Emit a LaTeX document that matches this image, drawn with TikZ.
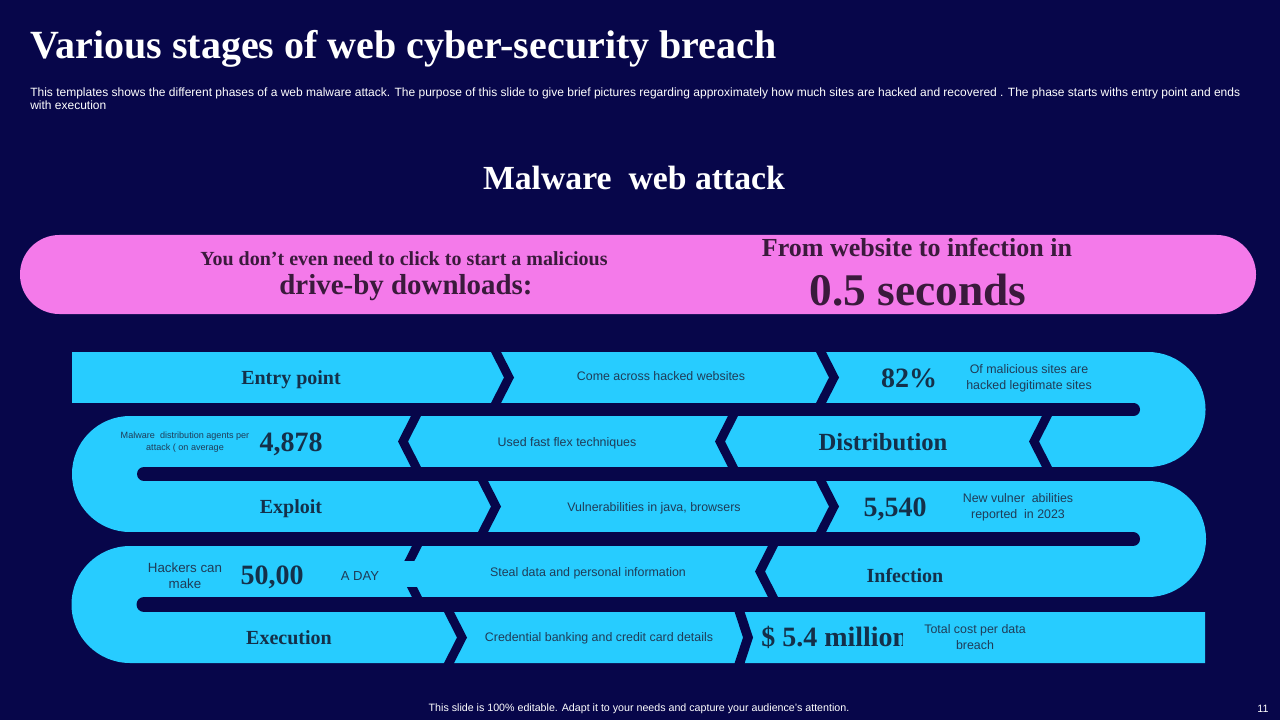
\documentclass[tikz,border=0pt]{standalone}
\usepackage{fontspec}
\setmainfont{Liberation Serif}
\setsansfont{Liberation Sans}

\definecolor{navybg}{HTML}{07064A}
\definecolor{bandcyan}{HTML}{27CCFF}
\definecolor{bannerpink}{HTML}{F47AEA}
\definecolor{plumtext}{HTML}{3A1A3C}
\definecolor{stagetext}{HTML}{14304A}
\definecolor{notecol}{HTML}{1F3C58}

% chevron cut through a band: #1 = x of stripe at top, #2 = band top, #3 = tip offset (+ right, - left)
\newcommand{\chev}[3]{\fill[navybg] (#1,#2-2) -- ++(10,0) -- ++(#3,27.5) -- ++({-(#3)},27.5) -- ++(-10,0) -- ++(#3,-27.5) -- cycle;}

\begin{document}
\begin{tikzpicture}[x=0.75pt, y=-0.75pt,
    band/.style={fill=bandcyan}, % cyan serpentine
    cutbar/.style={draw=navybg, line cap=round}, % dark bars between rows
    titletext/.style={font=\fontsize{30}{34}\selectfont\bfseries, text=white, inner sep=0pt},
    subtext/.style={font=\sffamily\fontsize{9}{11}\selectfont, text=white, inner sep=0pt},
    bannertext/.style={text=plumtext, inner sep=0pt},
    stagelabel/.style={font=\fontsize{15}{18}\selectfont\bfseries, text=stagetext, inner sep=0pt},
    statnum/.style={font=\fontsize{21}{24}\selectfont\bfseries, text=stagetext, inner sep=0pt},
    note/.style={font=\sffamily\fontsize{9.3}{12}\selectfont, text=notecol, align=center, inner sep=0pt}
]

    % Background
    \fill[navybg] (0,0) rectangle (1280,720);
    \useasboundingbox (0,0) rectangle (1280,720);

    % Headings
    \node[titletext, anchor=base west] (title) at (30,59) {Various stages of web cyber-security breach};
    \node[subtext, anchor=base west] (sub1) at (30,97) {This templates shows the different phases of a web malware attack. The purpose of this slide to give brief pictures regarding approximately how much sites are hacked and recovered . The phase starts withs entry point and ends};
    \node[subtext, anchor=base west] (sub2) at (30,110) {with execution};
    \node[font=\fontsize{25.3}{30}\selectfont\bfseries, text=white, anchor=base] (heading) at (634,190) {Malware~ web attack};

    % Pink banner
    \fill[bannerpink, rounded corners=29.5pt] (20,235) rectangle (1256,314);
    \node[bannertext, font=\fontsize{15}{18}\selectfont\bfseries, anchor=base] (click) at (404,265) {You don't even need to click to start a malicious};
    \node[bannertext, font=\fontsize{21.7}{25}\selectfont\bfseries, anchor=base] (driveby) at (406,294) {drive-by downloads:};
    \node[bannertext, font=\fontsize{19.5}{23}\selectfont\bfseries, anchor=base] (fromsite) at (917,257) {From website to infection in};
    \node[bannertext, font=\fontsize{34}{39}\selectfont\bfseries, anchor=base] (seconds) at (918,305) {0.5 seconds};

    % Serpentine band: pairs of rows joined by half discs
    \fill[band] (72,352) -- (1148,352) arc (-90:90:57.5) -- (130,467) -- (130,403) -- (72,403) -- cycle;
    \fill[band] (1148,416) -- (130,416) arc (-90:-270:58) -- (1148,532) -- cycle;
    \fill[band] (130,481) -- (1148,481) arc (-90:90:58) -- (130,597) -- cycle;
    \fill[band] (1148,546) -- (130,546) arc (-90:-270:58.5) -- (1205,663) -- (1205,612) -- (1148,612) -- cycle;

    % Dark bars between rows (round end on the inner side)
    \draw[cutbar, line width=9.75pt] (40,409.5) -- (1133.5,409.5);
    \draw[cutbar, line width=10.5pt] (144,474) -- (1240,474);
    \draw[cutbar, line width=10.5pt] (40,539) -- (1133,539);
    \draw[cutbar, line width=11.25pt] (144,604.5) -- (1240,604.5);

    % Chevron cuts
    \chev{490}{352}{14} \chev{815}{352}{14}
    \chev{412}{416}{-14} \chev{729}{416}{-14} \chev{1043}{416}{-14}
    \chev{477}{481}{14} \chev{815}{481}{14}
    \chev{769}{546}{-14} \chev{413}{546}{-14}
    \chev{443}{612}{14} \chev{734}{612}{9}
    \fill[band] (385,561) rectangle (428,587); % middle of this cut is covered

    % Row 1
    \node[stagelabel, anchor=base] (entry) at (291,384.5) {Entry point};
    \node[note, anchor=base] (entrydesc) at (661,380.5) {Come across hacked websites};
    \node[statnum, anchor=base] (entrystat) at (909,387) {82\%};
    \node[note] (entrynote) at (1029,378) {Of malicious sites are\\hacked legitimate sites};

    % Row 2
    \node[note, font=\sffamily\fontsize{6.8}{9}\selectfont] (distnote) at (185,442) {Malware~ distribution agents per\\attack ( on average};
    \node[statnum, anchor=base] (diststat) at (291,451.5) {4,878};
    \node[note, anchor=base] (distdesc) at (567,446) {Used fast flex techniques};
    \node[stagelabel, font=\fontsize{18.5}{22}\selectfont\bfseries, anchor=base] (dist) at (883,450) {Distribution};

    % Row 3
    \node[stagelabel, anchor=base] (exploit) at (291,513) {Exploit};
    \node[note, anchor=base] (exploitdesc) at (654,511) {Vulnerabilities in java, browsers};
    \node[statnum, anchor=base] (exploitstat) at (895,516) {5,540};
    \node[note] (exploitnote) at (1018,507) {New vulner~ abilities\\reported~ in 2023};

    % Row 4
    \node[note, font=\sffamily\fontsize{10}{12}\selectfont] (infnote) at (185,576) {Hackers can\\make};
    \node[statnum, anchor=base] (infstat) at (272,584) {50,00};
    \node[note, font=\sffamily\fontsize{9.8}{12}\selectfont, anchor=base] (infday) at (360,580) {A DAY};
    \node[note, anchor=base] (infdesc) at (588,576.5) {Steal data and personal information};
    \node[stagelabel, anchor=base] (infection) at (905,582) {Infection};

    % Row 5
    \node[stagelabel, anchor=base] (execution) at (289,644) {Execution};
    \node[note, anchor=base] (execdesc) at (599,641.5) {Credential banking and credit card details};
    \begin{scope}
        \clip (750,612) rectangle (902,663);
        \node[statnum, anchor=base west] (execstat) at (761,646) {\$ 5.4 million};
    \end{scope}
    \node[note, anchor=base] (execnote) at (975,633.5) {Total cost per data};
    \node[note, anchor=base] (execnote2) at (975,649.5) {breach};

    % Footer
    \node[subtext, font=\sffamily\fontsize{8}{9}\selectfont, anchor=base] (footer) at (639,711.5) {This slide is 100\% editable. Adapt it to your needs and capture your audience's attention.};
    \node[subtext, font=\sffamily\fontsize{8}{9}\selectfont, anchor=base] (pageno) at (1263,712) {11};

\end{tikzpicture}
\end{document}
